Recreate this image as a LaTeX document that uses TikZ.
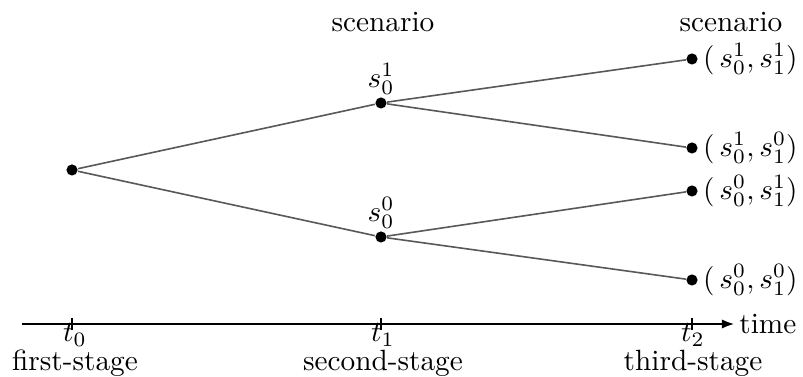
\documentclass[tikz,border=0pt]{standalone}
\usepackage{amsmath,amssymb}
\usepackage{xcolor}
\usepackage{tikz}
\usetikzlibrary{arrows.meta,positioning}

\begin{document}
\begin{tikzpicture}[
  x=0.012cm, y=-0.012cm,
  dot/.style={circle, fill=black, inner sep=0pt, minimum size=3.8pt},
  branch/.style={draw=black!65, line width=0.55pt},
  axis/.style={-{Latex[length=4.5pt,width=3.2pt]}, line width=1pt},
  tick/.style={line width=0.5pt},
  leaflab/.style={right=1.5pt, inner sep=0pt},
  stagelab/.style={inner sep=0pt}
]
\useasboundingbox (0,0) rectangle (803,377);

% scenario tree
\node[dot] (root) at (72,170) {};
\node[dot, label={[inner sep=0pt, yshift=0.5pt]above:$s_0^1$}] (s1) at (381,103) {};
\node[dot, label={[inner sep=0pt, yshift=0.5pt]above:$s_0^0$}] (s0) at (381,237) {};
\node[dot] (l11) at (692,59) {};
\node[dot] (l10) at (692,148) {};
\node[dot] (l01) at (692,191) {};
\node[dot] (l00) at (692,280) {};

\node[leaflab] at (l11.east) {$(\,s_0^1,s_1^1)$};
\node[leaflab] at (l10.east) {$(\,s_0^1,s_1^0)$};
\node[leaflab] at (l01.east) {$(\,s_0^0,s_1^1)$};
\node[leaflab] at (l00.east) {$(\,s_0^0,s_1^0)$};

\node (sc1) at (383,22) {scenario};
\node (sc2) at (731,22) {scenario};

\draw[branch] (root) -- (s1);
\draw[branch] (root) -- (s0);
\draw[branch] (s1) -- (l11);
\draw[branch] (s1) -- (l10);
\draw[branch] (s0) -- (l01);
\draw[branch] (s0) -- (l00);

% time axis
\coordinate (a0) at (22,324);
\coordinate (a1) at (735,324);
\draw[axis] (a0) -- (a1) node[right=0pt, inner sep=1pt] (time) {time};
\foreach \x in {72,381,692}
  \draw[tick] (\x,318) -- (\x,330);

\node[stagelab] (t0) at (75,335) {$t_0$};
\node[stagelab] (t1) at (383,335) {$t_1$};
\node[stagelab] (t2) at (693,335) {$t_2$};
\node[stagelab, below=1pt of t0] (st0) {first-stage};
\node[stagelab, below=1pt of t1] (st1) {second-stage};
\node[stagelab, below=1pt of t2] (st2) {third-stage};
\end{tikzpicture}
\end{document}
